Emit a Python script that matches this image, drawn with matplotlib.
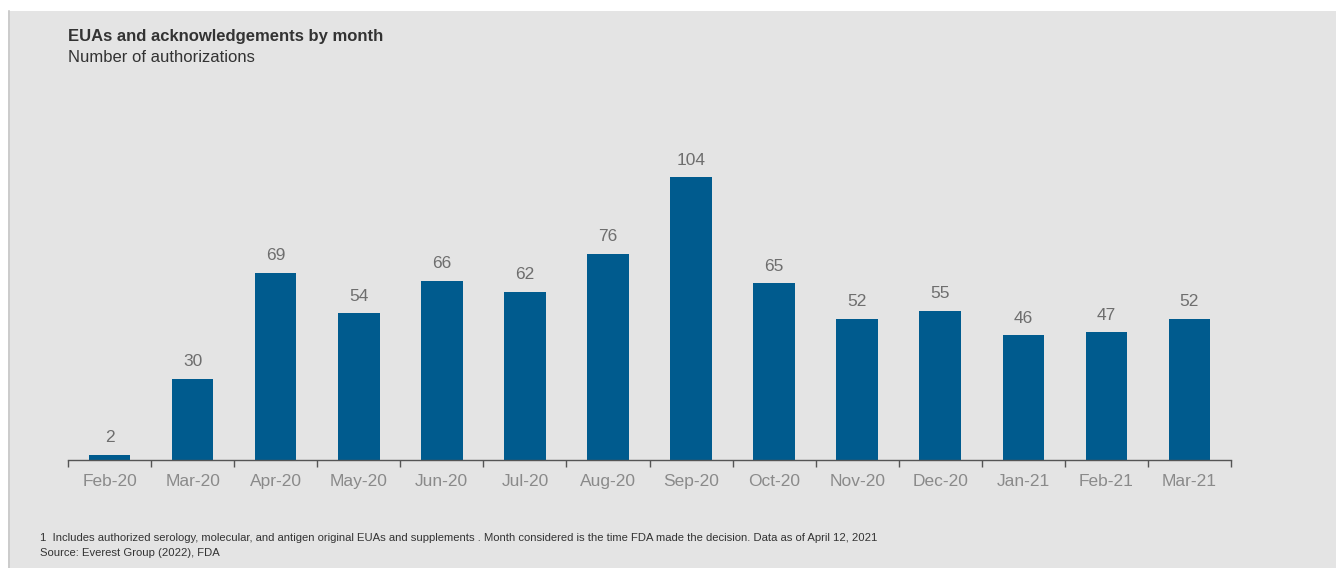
import matplotlib
matplotlib.use("Agg")
import matplotlib.pyplot as plt
from matplotlib.patches import Rectangle

months = ["Feb-20", "Mar-20", "Apr-20", "May-20", "Jun-20", "Jul-20", "Aug-20",
          "Sep-20", "Oct-20", "Nov-20", "Dec-20", "Jan-21", "Feb-21", "Mar-21"]
counts = [2, 30, 69, 54, 66, 62, 76, 104, 65, 52, 55, 46, 47, 52]

title = "EUAs and acknowledgements by month"
subtitle = "Number of authorizations"
footnote = ("1  Includes authorized serology, molecular, and antigen original EUAs and supplements . "
            "Month considered is the time FDA made the decision. Data as of April 12, 2021")
source = "Source: Everest Group (2022), FDA"

plt.rcParams['font.family'] = ['Liberation Sans', 'DejaVu Sans']

W, H = 1336, 568
fig = plt.figure(figsize=(W / 100, H / 100), dpi=100)
fig.patch.set_facecolor("white")
bg = "#E4E4E4"
fig.patches.append(Rectangle((8 / W, 0), 1 - 8 / W, 1 - 11 / H, transform=fig.transFigure,
                             facecolor=bg, edgecolor="none", zorder=-2))
fig.lines.append(plt.Line2D([8.5 / W, 8.5 / W], [0, 1 - 11 / H], transform=fig.transFigure,
                            color="#C8C8C8", lw=1.2, zorder=-1))

left, right = 68 / W, 1231 / W
bottom = (H - 460) / H
top = (H - 134) / H
ax = fig.add_axes([left, bottom, right - left, top - bottom])
ax.set_facecolor("none")
ax.set_zorder(1)

x = list(range(len(months)))
ax.bar(x, counts, width=0.5, color="#005B8E", zorder=2)
for xi, v in zip(x, counts):
    ax.text(xi, v + 3.5, str(v), ha="center", va="bottom", fontsize=12.5, color="#6E6E6E")

ax.set_xlim(-0.5, len(months) - 0.5)
ax.set_ylim(0, 120)
ax.set_xticks(x)
ax.set_xticklabels(months, fontsize=12.5, color="#8A8A8A")
ax.tick_params(axis="x", which="major", length=0, pad=10)
ax.set_xticks([i - 0.5 for i in range(len(months) + 1)], minor=True)
ax.tick_params(axis="x", which="minor", length=5, width=1, color="#555555", direction="out")
ax.set_yticks([])
for s in ["top", "right", "left"]:
    ax.spines[s].set_visible(False)
ax.spines["bottom"].set_color("#555555")
ax.spines["bottom"].set_linewidth(1)

fig.text(68 / W, 1 - 36 / H, title, fontsize=12, fontweight="bold", color="#333333", va="center")
fig.text(68 / W, 1 - 57 / H, subtitle, fontsize=12, color="#333333", va="center")
fig.text(40 / W, 1 - 538 / H, footnote, fontsize=8.1, color="#333333", va="center")
fig.text(40 / W, 1 - 553 / H, source, fontsize=8.1, color="#333333", va="center")

fig.savefig("out.png", dpi=100, facecolor=fig.get_facecolor())
